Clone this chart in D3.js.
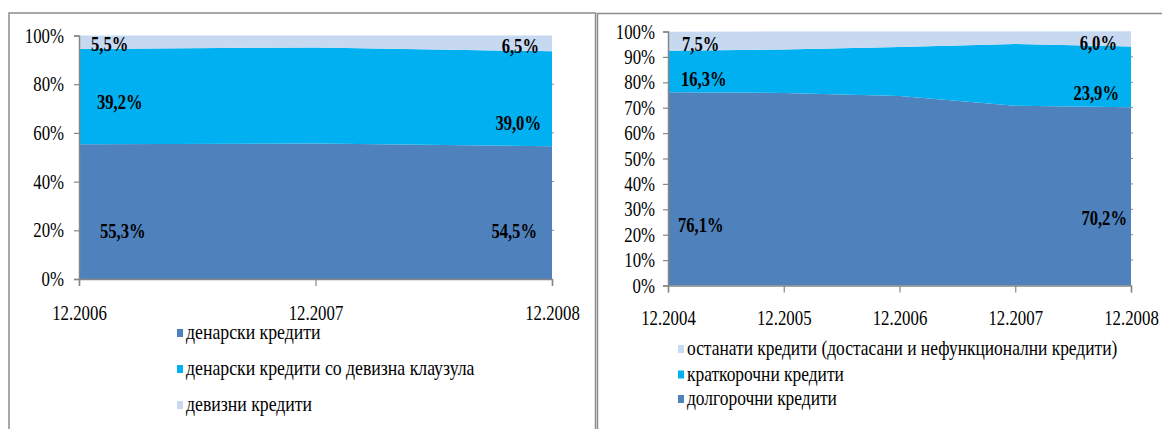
<!DOCTYPE html>
<html>
<head>
<meta charset="utf-8">
<script src="https://cdn.jsdelivr.net/npm/d3@7.9.0/dist/d3.min.js"></script>
<style>
  html, body { margin: 0; padding: 0; background: #fff; }
</style>
</head>
<body>
<svg id="chart" width="1162" height="429"></svg>
<script>
// left chart: structure by currency
const leftCategories = ["12.2006", "12.2007", "12.2008"];
const leftDenarski = [55.3, 55.6, 54.5];
const leftKlauzula = [39.2, 39.5, 39.0];
const leftDevizni = [5.5, 4.9, 6.5];
const leftTicks = [0, 20, 40, 60, 80, 100];
const leftNames = ["денарски кредити", "денарски кредити со девизна клаузула", "девизни кредити"];

// right chart: structure by maturity
const rightCategories = ["12.2004", "12.2005", "12.2006", "12.2007", "12.2008"];
const rightDolgo = [76.1, 75.8, 74.6, 70.8, 70.2];
const rightKratko = [16.3, 17.1, 19.3, 24.3, 23.9];
const rightOstanati = [7.5, 7.1, 6.1, 4.9, 6.0];
const rightTicks = [0, 10, 20, 30, 40, 50, 60, 70, 80, 90, 100];
const rightNames = ["долгорочни кредити", "краткорочни кредити", "останати кредити (достасани и нефункционални  кредити)"];

const colors = ["#4F81BD", "#00B0F0", "#C6D9F1"];
const squeeze = 0.84; // the source text is horizontally condensed
const axisColor = "#868686";
const serif = '"Liberation Serif"';

const svg = d3.select("#chart");
svg.append("rect").attr("width", 1162).attr("height", 429).attr("fill", "#fff");

// panel frames
svg.append("rect").attr("x", 9).attr("y", 13).attr("width", 586.5).attr("height", 440)
  .attr("fill", "none").attr("stroke", "#8c8c8c").attr("stroke-width", 1.5);
svg.append("rect").attr("x", 597.5).attr("y", 13.5).attr("width", 580).attr("height", 440)
  .attr("fill", "none").attr("stroke", "#8c8c8c").attr("stroke-width", 1.5);

const fmt = v => d3.format(".1f")(v).replace(".", ",") + "%";

function drawPanel(cfg) {
  const rows = cfg.categories.map((c, i) => {
    const r = { cat: c };
    cfg.series.forEach((s, k) => r["s" + k] = s[i]);
    return r;
  });
  const keys = cfg.series.map((_, k) => "s" + k);
  const stacked = d3.stack().keys(keys)(rows);

  const x = d3.scalePoint().domain(cfg.categories).range([cfg.x0, cfg.x1]);
  const y = d3.scaleLinear().domain([0, 100]).range([cfg.y0, cfg.y1]);

  const g = svg.append("g");

  const area = d3.area()
    .x(d => x(d.data.cat))
    .y0(d => y(d[0]))
    .y1(d => y(d[1]));

  g.selectAll("path.layer").data(stacked).join("path")
    .attr("class", "layer")
    .attr("d", area)
    .attr("fill", (d, i) => colors[i]);

  // little gridline stubs at the right edge of the plot
  g.selectAll("line.stub").data(cfg.ticks.slice(1, -1)).join("line")
    .attr("x1", cfg.x1).attr("x2", cfg.x1 + 2)
    .attr("y1", d => y(d)).attr("y2", d => y(d))
    .attr("stroke", axisColor).attr("stroke-width", 1);

  // y axis
  const yAxis = g.append("g").attr("transform", `translate(${cfg.x0},0)`)
    .call(d3.axisLeft(y).tickValues(cfg.ticks).tickFormat(d => d + "%").tickSize(5).tickPadding(cfg.yPad));
  // x axis
  const xAxis = g.append("g").attr("transform", `translate(0,${cfg.y0})`)
    .call(d3.axisBottom(x).tickSize(7).tickPadding(0));

  [yAxis, xAxis].forEach(a => {
    a.select(".domain").attr("stroke", axisColor).attr("stroke-width", 1.5);
    a.selectAll(".tick line").attr("stroke", axisColor).attr("stroke-width", 1.2);
    a.selectAll(".tick text").attr("fill", "#000").attr("font-size", 20)
      .style("font-family", serif);
  });
  yAxis.selectAll(".tick text").attr("dy", "0.33em")
    .attr("transform", `scale(${squeeze},1)`)
    .attr("x", -cfg.yPad / squeeze);
  xAxis.selectAll(".tick text").attr("dy", 0).attr("y", cfg.xLabelDy)
    .attr("transform", `scale(${squeeze},1)`);

  // data labels at the first and last category
  cfg.labels.forEach(l => {
    const i = l.last ? cfg.categories.length - 1 : 0;
    const v = cfg.series[l.s][i];
    const px = x(cfg.categories[i]) + l.dx;
    const py = y(l.at);
    g.append("text")
      .attr("transform", `translate(${px},${py}) scale(0.83,1)`)
      .attr("dy", "0.33em")
      .attr("text-anchor", l.last ? "end" : "start")
      .attr("font-size", 20).attr("font-weight", "bold").attr("fill", "#000")
      .style("font-family", serif)
      .text(fmt(v));
  });

  // legend
  const lg = g.append("g");
  cfg.legend.forEach((it, j) => {
    const ly = cfg.legendY[j];
    lg.append("rect")
      .attr("x", cfg.legendX).attr("y", ly - 10)
      .attr("width", 6).attr("height", 8)
      .attr("fill", colors[it.c]);
    lg.append("text")
      .attr("transform", `translate(${cfg.legendX + 9},${ly}) scale(${cfg.legendSqueeze},1)`)
      .attr("font-size", 21).attr("fill", "#000")
      .style("font-family", serif)
      .text(it.name);
  });
}

drawPanel({
  categories: leftCategories,
  series: [leftDenarski, leftKlauzula, leftDevizni],
  ticks: leftTicks,
  x0: 79, x1: 552, y0: 279, y1: 35.5,
  yPad: 15, xLabelDy: 41,
  labels: [
    { s: 0, last: false, dx: 21, at: 19.7 },
    { s: 1, last: false, dx: 18, at: 72.7 },
    { s: 2, last: false, dx: 12, at: 96.2 },
    { s: 0, last: true, dx: -15, at: 19.7 },
    { s: 1, last: true, dx: -11, at: 64 },
    { s: 2, last: true, dx: -13, at: 95.7 }
  ],
  legend: [
    { name: leftNames[0], c: 0 },
    { name: leftNames[1], c: 1 },
    { name: leftNames[2], c: 2 }
  ],
  legendX: 177, legendY: [339, 375, 411], legendSqueeze: 0.845
});

drawPanel({
  categories: rightCategories,
  series: [rightDolgo, rightKratko, rightOstanati],
  ticks: rightTicks,
  x0: 668, x1: 1131, y0: 285.5, y1: 31.5,
  yPad: 13, xLabelDy: 39.5,
  labels: [
    { s: 0, last: false, dx: 10, at: 23.6 },
    { s: 1, last: false, dx: 13, at: 81.3 },
    { s: 2, last: false, dx: 14, at: 95.1 },
    { s: 0, last: true, dx: -4, at: 26.6 },
    { s: 1, last: true, dx: -12, at: 75.8 },
    { s: 2, last: true, dx: -14, at: 95.4 }
  ],
  legend: [
    { name: rightNames[2], c: 2 },
    { name: rightNames[1], c: 1 },
    { name: rightNames[0], c: 0 }
  ],
  legendX: 678, legendY: [355, 380.5, 405], legendSqueeze: 0.83
});
</script>
</body>
</html>
